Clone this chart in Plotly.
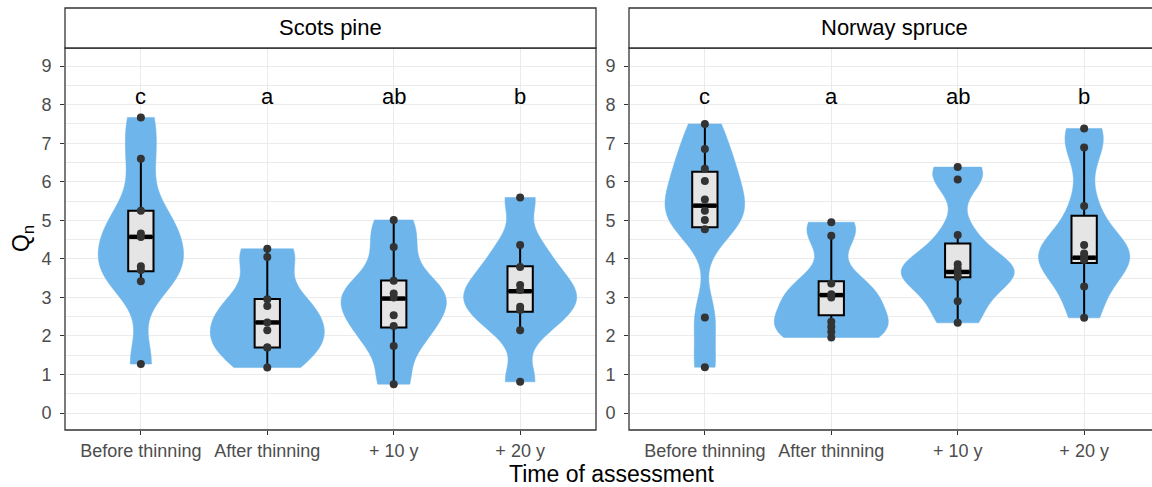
import numpy as np
import plotly.graph_objects as go

W, H = 1152, 487

categories = ["Before thinning", "After thinning", "+ 10 y", "+ 20 y"]
panels = ["Scots pine", "Norway spruce"]
letters = ["c", "a", "ab", "b"]

pine_before = [7.67, 6.60, 5.25, 4.66, 4.57, 3.81, 3.71, 3.42, 1.27]
pine_after = [4.26, 4.05, 2.95, 2.78, 2.35, 2.15, 1.70, 1.70, 1.18]
pine_10y = [5.01, 4.31, 3.43, 3.10, 3.00, 2.54, 2.26, 1.74, 0.75]
pine_20y = [5.59, 4.36, 3.79, 3.32, 3.19, 2.76, 2.67, 2.15, 0.81]

spruce_before = [7.50, 6.85, 6.34, 6.02, 5.54, 5.25, 5.01, 4.77, 2.48, 1.19]
spruce_after = [4.95, 4.60, 3.36, 3.08, 3.00, 2.37, 2.24, 2.11, 1.96]
spruce_10y = [6.38, 6.06, 4.62, 3.86, 3.75, 3.62, 3.53, 2.90, 2.34]
spruce_20y = [7.38, 6.89, 5.37, 4.36, 4.14, 4.05, 3.97, 3.28, 2.47]

# ---- box statistics ----
pine_q1 = [3.68, 1.70, 2.22, 2.63]
pine_median = [4.57, 2.35, 2.97, 3.16]
pine_q3 = [5.25, 2.96, 3.44, 3.81]
pine_lo = [3.42, 1.18, 0.75, 2.15]
pine_hi = [6.60, 4.26, 5.01, 4.36]

spruce_q1 = [4.82, 2.54, 3.52, 3.89]
spruce_median = [5.38, 3.06, 3.66, 4.03]
spruce_q3 = [6.26, 3.42, 4.40, 5.12]
spruce_lo = [4.77, 1.96, 2.34, 2.47]
spruce_hi = [7.50, 4.60, 4.62, 6.89]

panel_data = [
    dict(groups=[pine_before, pine_after, pine_10y, pine_20y],
         q1=pine_q1, med=pine_median, q3=pine_q3, lo=pine_lo, hi=pine_hi),
    dict(groups=[spruce_before, spruce_after, spruce_10y, spruce_20y],
         q1=spruce_q1, med=spruce_median, q3=spruce_q3, lo=spruce_lo, hi=spruce_hi),
]

# ---- styling ----
FONT = "Liberation Sans, Arial, sans-serif"
VIOLIN = "#6DB5EA"
BOXFILL = "#E5E5E5"
POINT = "#333333"
GRID = "#EBEBEB"
BORDER = "#333333"
TICKTXT = "#4D4D4D"
BOX_W = 0.2

# panel pixel geometry
top_px, bot_px = 48, 430
strip_top_px = 8
pan_x = [(65, 596), (629, 1160)]
unit_px = (596 - 65) / 4.2
yr = [-0.44, 9.47]


def nrd0(v):
    v = np.asarray(v, float)
    sd = v.std(ddof=1)
    q75, q25 = np.percentile(v, [75, 25])
    lo = min(sd, (q75 - q25) / 1.34)
    if lo <= 0:
        lo = sd
    return 0.9 * lo * len(v) ** -0.2


fig = go.Figure()
for p, pd_ in enumerate(panel_data):
    xa = "x" if p == 0 else "x2"
    ya = "y" if p == 0 else "y2"
    for i, g in enumerate(pd_["groups"]):
        fig.add_trace(go.Violin(
            x=[i] * len(g), y=g, xaxis=xa, yaxis=ya, orientation="v",
            scalegroup=f"panel{p}", scalemode="width",
            spanmode="hard", bandwidth=nrd0(g), points=False,
            fillcolor=VIOLIN, line=dict(color=VIOLIN, width=0.5),
            opacity=1, showlegend=False, hoverinfo="skip"))
    fig.add_trace(go.Box(
        x=list(range(4)), q1=pd_["q1"], median=pd_["med"], q3=pd_["q3"],
        lowerfence=pd_["lo"], upperfence=pd_["hi"], xaxis=xa, yaxis=ya,
        width=BOX_W, whiskerwidth=0, fillcolor=BOXFILL,
        line=dict(color="black", width=2), boxpoints=False,
        showlegend=False, hoverinfo="skip"))
    for i, m in enumerate(pd_["med"]):
        fig.add_trace(go.Scatter(
            x=[i - BOX_W / 2 + 0.008, i + BOX_W / 2 - 0.008], y=[m, m],
            xaxis=xa, yaxis=ya, mode="lines",
            line=dict(color="black", width=4.5),
            showlegend=False, hoverinfo="skip"))
    for i, g in enumerate(pd_["groups"]):
        fig.add_trace(go.Scatter(
            x=[i] * len(g), y=g, xaxis=xa, yaxis=ya, mode="markers",
            marker=dict(color=POINT, size=8, line=dict(width=0)),
            showlegend=False, hoverinfo="skip"))

ydom = [1 - bot_px / H, 1 - top_px / H]
axis_common = dict(showline=False, zeroline=False, ticks="outside", ticklen=4,
                   tickwidth=1, tickcolor=BORDER,
                   tickfont=dict(family=FONT, size=18, color=TICKTXT))

for p in range(2):
    x0, x1 = pan_x[p]
    x1c = min(x1, W)
    xrange = [-0.6, -0.6 + (x1c - x0) / unit_px]
    xkey = "xaxis" if p == 0 else "xaxis2"
    ykey = "yaxis" if p == 0 else "yaxis2"
    fig.update_layout(**{
        xkey: dict(domain=[x0 / W, x1c / W], range=xrange, tickvals=list(range(4)),
                   ticktext=categories, showgrid=True, gridcolor=GRID, gridwidth=1.4,
                   anchor="y" if p == 0 else "y2", ticklabelstandoff=0, **axis_common),
        ykey: dict(domain=ydom, range=yr, tickvals=list(range(10)),
                   showgrid=True, gridcolor=GRID, gridwidth=1.4,
                   minor=dict(dtick=0.5, tick0=0, showgrid=True, gridcolor=GRID,
                              gridwidth=0.9, ticks=""),
                   anchor="x" if p == 0 else "x2", ticklabelstandoff=5, **axis_common),
    })

shapes = []
annotations = []
for p in range(2):
    x0, x1 = pan_x[p]
    shapes.append(dict(type="rect", xref="paper", yref="paper",
                       x0=x0 / W, x1=x1 / W, y0=ydom[0], y1=ydom[1],
                       line=dict(color=BORDER, width=1.3), fillcolor="rgba(0,0,0,0)",
                       layer="above"))
    shapes.append(dict(type="rect", xref="paper", yref="paper",
                       x0=x0 / W, x1=x1 / W, y0=ydom[1], y1=1 - strip_top_px / H,
                       line=dict(color=BORDER, width=1.3), fillcolor="white",
                       layer="above"))
    annotations.append(dict(text=panels[p], xref="paper", yref="paper",
                            x=(x0 + x1) / 2 / W, y=1 - (strip_top_px + top_px) / 2 / H,
                            xanchor="center", yanchor="middle", showarrow=False,
                            font=dict(family=FONT, size=22, color="black")))
    for i, lt in enumerate(letters):
        annotations.append(dict(text=lt, xref="x" if p == 0 else "x2",
                                yref="y" if p == 0 else "y2", x=i, y=8.22,
                                xanchor="center", yanchor="middle", showarrow=False,
                                font=dict(family=FONT, size=22, color="black")))

annotations.append(dict(text="Time of assessment", xref="paper", yref="paper",
                        x=612 / W, y=1 - 474 / H, xanchor="center", yanchor="middle",
                        showarrow=False, font=dict(family=FONT, size=23, color="black")))
annotations.append(dict(text="Q<sub>n</sub>", xref="paper", yref="paper",
                        x=22 / W, y=1 - 239 / H, xanchor="center", yanchor="middle",
                        textangle=-90, showarrow=False,
                        font=dict(family=FONT, size=23, color="black")))

fig.update_layout(width=W, height=H, margin=dict(l=0, r=0, t=0, b=0),
                  paper_bgcolor="white", plot_bgcolor="white",
                  violinmode="overlay", boxmode="overlay",
                  violingap=0.1, violingroupgap=0,
                  shapes=shapes, annotations=annotations, showlegend=False)

fig.write_html("out.html")
